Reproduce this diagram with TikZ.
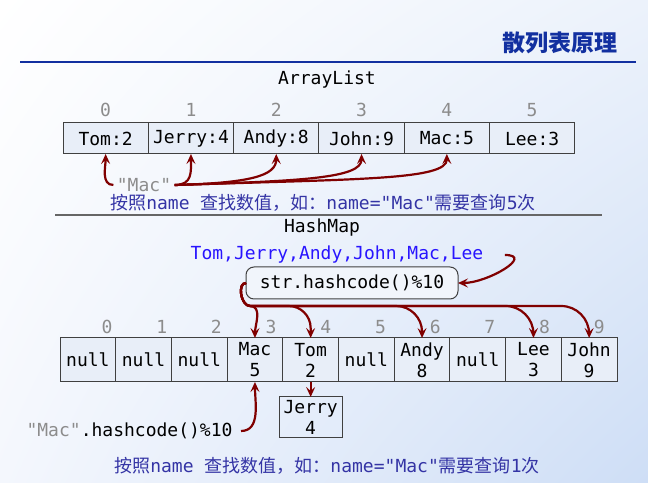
\documentclass[tikz,border=0pt]{standalone}
\usepackage{fontspec}
\setmonofont{DejaVu Sans Mono}
\newfontfamily\cjkfont{Noto Sans CJK SC}
\usepackage{tikz}
\usetikzlibrary{positioning,arrows.meta,shadings}

\definecolor{arrowred}{RGB}{128,0,0}
\definecolor{titleblue}{RGB}{18,48,160}
\definecolor{listblue}{RGB}{40,20,255}
\definecolor{notecol}{RGB}{52,52,165}
\definecolor{cellfill}{RGB}{232,238,248}
\definecolor{idxgray}{RGB}{140,140,140}
\definecolor{bgcorner}{RGB}{206,222,246}
\definecolor{bgtr}{RGB}{236,242,251}
\definecolor{bgbl}{RGB}{244,247,253}

\newcommand\zh[1]{{\cjkfont #1}}

\begin{document}
\begin{tikzpicture}[
    x=1pt, y=1pt,
    mono/.style={font=\fontsize{18}{21}\selectfont\ttfamily},
    cell/.style={mono, rectangle, draw=black!75, line width=1pt, inner sep=0pt, outer sep=0pt, align=center},
    acell/.style={cell, fill=cellfill, minimum width=85.3pt, minimum height=31pt},
    hcell/.style={cell, fill=cellfill, minimum width=55.7pt, minimum height=44pt},
    hbox/.style={cell, rounded corners=8pt, fill=cellfill!60, minimum width=212pt, minimum height=32pt},
    idx/.style={mono, text=idxgray, inner sep=0pt},
    link/.style={draw=arrowred, line width=2.2pt, -{Stealth[length=10pt,width=9pt,inset=4pt]}},
    note/.style={font=\fontsize{18}{21}\selectfont\ttfamily, text=notecol}
]
    % Background
    \shade[upper left=white, upper right=bgtr, lower left=bgbl, lower right=bgcorner] (0,0) rectangle (648,482);
    \useasboundingbox (0,0) rectangle (648,482);

    % Title
    \node[anchor=east, text=titleblue, font=\fontsize{23}{27}\selectfont\cjkfont\bfseries] (title) at (621,439) {散列表原理};
    \draw[titleblue, line width=2.2pt] (20,420) -- (636,420);

    % ArrayList
    \node[mono] (alist) at (327,402) {ArrayList};
    \node[acell] (a0) at (105.65,343.5) {Tom:2};
    \node[acell, right=0pt of a0] (a1) {Jerry:4};
    \node[acell, right=0pt of a1] (a2) {Andy:8};
    \node[acell, right=0pt of a2] (a3) {John:9};
    \node[acell, right=0pt of a3] (a4) {Mac:5};
    \node[acell, right=0pt of a4] (a5) {Lee:3};
    \foreach \i in {0,...,5}
        \node[idx, above=6pt of a\i] (ai\i) {\i};

    \node[mono, text=idxgray] (key) at (144,297) {"Mac"};
    \draw[link] (key.west) to[out=180,in=-90] (a0.south);
    \draw[link] (key.east) .. controls +(18,0) and +(0,-18) .. (a1.south);
    \draw[link] (key.east) .. controls +(75,2) and +(0,-22) .. (a2.south);
    \draw[link] (key.east) .. controls +(130,4) and +(0,-24) .. (a3.south);
    \draw[link] (key.east) .. controls +(185,6) and +(0,-26) .. (a4.south);

    \node[note] (note1) at (323,279) {\zh{按照}name \zh{查找数值，如：}name="Mac"\zh{需要查询}5\zh{次}};
    \draw[black!60, line width=1.5pt] (55,267) -- (602,267);

    % HashMap
    \node[mono] (hmap) at (322,254) {HashMap};
    \node[mono, text=listblue] (list) at (337,227) {Tom,Jerry,Andy,John,Mac,Lee};
    \node[hbox] (hash) at (352,199) {str.hashcode()\%10};
    \draw[link] ([xshift=18pt]list.east) to[out=0,in=0,looseness=1.4] (hash.east);

    \node[hcell] (h0) at (87.85,122) {null};
    \node[hcell, right=0pt of h0] (h1) {null};
    \node[hcell, right=0pt of h1] (h2) {null};
    \node[hcell, right=0pt of h2] (h3) {Mac\\5};
    \node[hcell, right=0pt of h3] (h4) {Tom\\2};
    \node[hcell, right=0pt of h4] (h5) {null};
    \node[hcell, right=0pt of h5] (h6) {Andy\\8};
    \node[hcell, right=0pt of h6] (h7) {null};
    \node[hcell, right=0pt of h7] (h8) {Lee\\3};
    \node[hcell, right=0pt of h8] (h9) {John\\9};
    \foreach \i in {0,...,9}
        \node[idx] (hi\i) at ({107+54.7*\i},155) {\i};

    \coordinate (turn) at (250,176);
    \draw[link] (hash.west) to[out=180,in=180] (turn) to[out=0,in=90] (h3.north);
    \draw[link] (hash.west) to[out=180,in=180] (turn) [rounded corners=22pt] -| (h4.north);
    \draw[link] (hash.west) to[out=180,in=180] (turn) [rounded corners=26pt] -| (h6.north);
    \draw[link] (hash.west) to[out=180,in=180] (turn) [rounded corners=28pt] -| (h8.north);
    \draw[link] (hash.west) to[out=180,in=180] (turn) [rounded corners=28pt] -| (h9.north);

    \node[cell, minimum width=63pt, minimum height=41pt, below=15pt of h4] (jerry) {Jerry\\4};
    \draw[link] (h4.south) -- (jerry.north);

    \node[mono, anchor=east] (hmac) at (236,51) {{\color{idxgray}"Mac"}.hashcode()\%10};
    \draw[link] ([xshift=5pt]hmac.east) to[out=0,in=-90] (h3.south);

    \node[note] (note2) at (327,16) {\zh{按照}name \zh{查找数值，如：}name="Mac"\zh{需要查询}1\zh{次}};
\end{tikzpicture}
\end{document}
